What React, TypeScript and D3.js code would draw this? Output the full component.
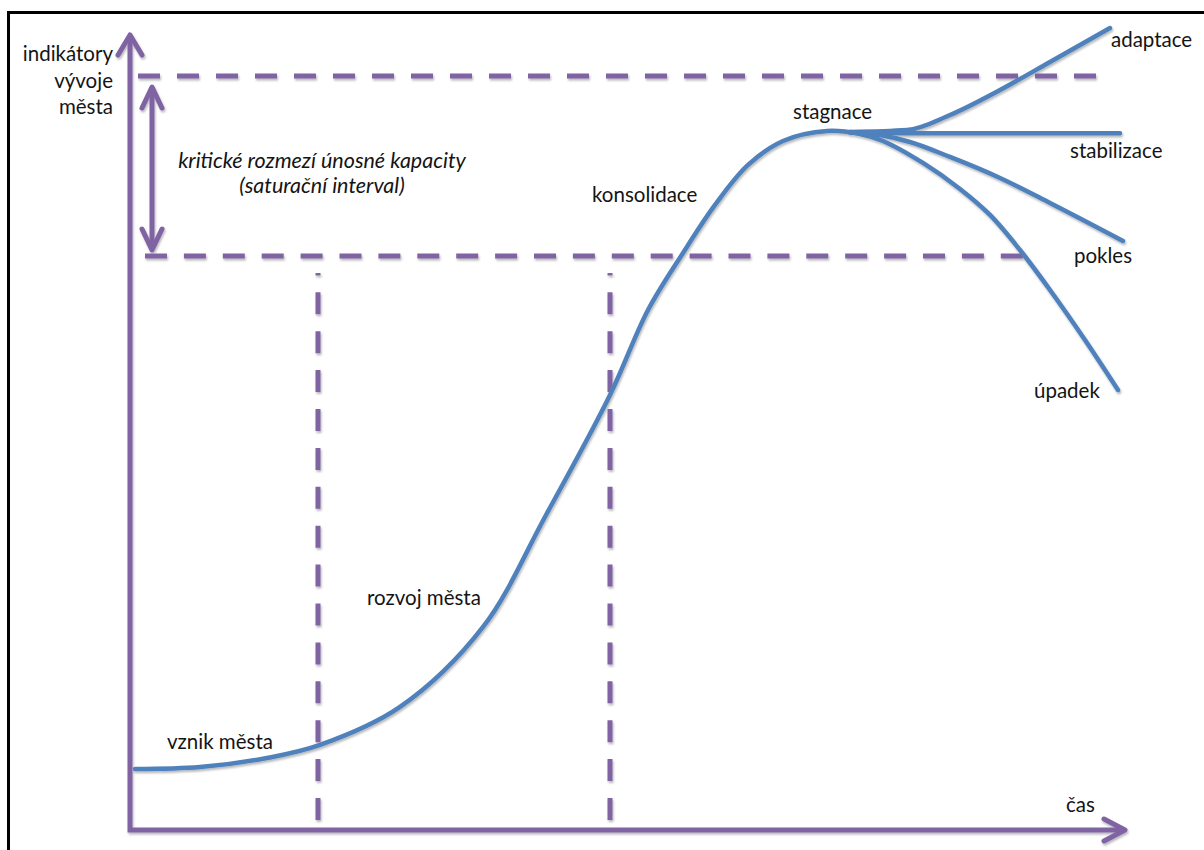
import React from "react";
import * as d3 from "d3";

// ---- data (time 0..100, indicator 0..100) ----
const mainCurve: [number, number][] = [
  [0.5, 7.63], [7.0, 7.88], [13.7, 9.0], [19.0, 10.63], [27.0, 15.38],
  [35.3, 25.38], [41.6, 39.38], [48.0, 54.38], [51.8, 65.0], [55.3, 72.13],
  [58.5, 78.13], [61.8, 83.13], [65.3, 86.13], [69.7, 87.38], [73.0, 87.0],
  [75.3, 86.13], [79.3, 83.38], [83.0, 80.13], [86.0, 76.88], [89.0, 72.5],
  [92.0, 67.5], [95.5, 61.25], [98.8, 55.0],
];
const adaptace: [number, number][] = [
  [72.0, 87.25], [77.7, 87.5], [82.0, 89.38], [87.0, 92.5], [92.0, 96.0], [98.0, 100.25],
];
const stabilizace: [number, number][] = [
  [72.0, 87.2], [80.0, 87.1], [99.0, 87.1],
];
const pokles: [number, number][] = [
  [72.0, 87.25], [75.0, 86.88], [78.0, 86.0], [82.0, 84.13], [87.0, 81.5], [92.0, 78.38], [99.3, 73.63],
];
const saturationLevels = [94.25, 71.75];
const phaseBoundaries = [18.8, 48.0];
const axisLabels = ["indikátory", "vývoje", "města"];
const intervalLabels = ["kritické rozmezí únosné kapacity", "(saturační interval)"];
const phaseLabels = ["vznik města", "rozvoj města", "konsolidace", "stagnace"];
const branchLabels = ["adaptace", "stabilizace", "pokles", "úpadek"];
const timeLabel = "čas";

const W = 1204;
const H = 850;
const PURPLE = "#8064A2";
const BLUE = "#4F81BD";
const TEXT = "#141414";
const FONT = "Lato, 'Open Sans', sans-serif";

const x = d3.scaleLinear().domain([0, 100]).range([130, 1130]);
const y = d3.scaleLinear().domain([0, 100]).range([830, 30]);

const line = d3
  .line<[number, number]>()
  .x((d) => x(d[0]))
  .y((d) => y(d[1]))
  .curve(d3.curveMonotoneX);

const smoothLine = d3
  .line<[number, number]>()
  .x((d) => x(d[0]))
  .y((d) => y(d[1]))
  .curve(d3.curveCatmullRom.alpha(0.5));

// layout positions for labels (pixels)
const phasePos = [
  [167, 749],
  [367, 605],
  [592, 202],
  [793, 119],
];
const branchPos = [
  [1111, 47],
  [1070, 158],
  [1074, 263],
  [1034, 398],
];

export default function App() {
  const x0 = x(0);
  const y0 = y(0);
  const xTip = x(99.5);
  const yTip = y(99.375);
  const arrowX = 152;
  const topLevel = y(saturationLevels[0]);
  const botLevel = y(saturationLevels[1]);

  return (
    <div>
      <style>{"body{margin:0}"}</style>
      <svg width={W} height={H} style={{ display: "block" }} fontFamily={FONT}>
        <defs>
          <filter id="sh" x="-10%" y="-10%" width="120%" height="130%">
            <feDropShadow dx="1" dy="2" stdDeviation="1.2" floodColor="#000" floodOpacity="0.28" />
          </filter>
        </defs>
        <rect x={0} y={0} width={W} height={H} fill="#fff" />
        {/* frame */}
        <path d={`M8.5,${H + 5} L8.5,12.5 L${W + 5},12.5`} fill="none" stroke="#000" strokeWidth={3} />

        <g filter="url(#sh)">
          {/* saturation dashed lines */}
          <line x1={138} x2={1096} y1={topLevel} y2={topLevel} stroke={PURPLE} strokeWidth={5} strokeDasharray="22,17" />
          <line x1={145} x2={1024} y1={botLevel} y2={botLevel} stroke={PURPLE} strokeWidth={5} strokeDasharray="22,16.9" />
          {/* phase boundaries */}
          {phaseBoundaries.map((v, i) => (
            <line key={i} x1={x(v)} x2={x(v)} y1={820} y2={273} stroke={PURPLE} strokeWidth={5} strokeDasharray="22,16.9" />
          ))}
          {/* double arrow */}
          <line x1={arrowX} x2={arrowX} y1={topLevel + 11} y2={botLevel - 6} stroke={PURPLE} strokeWidth={5} />
          <path
            d={`M${arrowX - 10},${topLevel + 32} L${arrowX},${topLevel + 11} L${arrowX + 10},${topLevel + 32}`}
            fill="none" stroke={PURPLE} strokeWidth={5} strokeLinecap="round" strokeLinejoin="round"
          />
          <path
            d={`M${arrowX - 10},${botLevel - 27} L${arrowX},${botLevel - 6} L${arrowX + 10},${botLevel - 27}`}
            fill="none" stroke={PURPLE} strokeWidth={5} strokeLinecap="round" strokeLinejoin="round"
          />
          {/* axes */}
          <path d={`M${x0},${yTip + 1} L${x0},${y0} L${xTip - 1},${y0}`} fill="none" stroke={PURPLE} strokeWidth={5} />
          <path
            d={`M${x0 - 12},${yTip + 20} L${x0},${yTip} L${x0 + 12},${yTip + 20}`}
            fill="none" stroke={PURPLE} strokeWidth={5} strokeLinecap="round" strokeLinejoin="round"
          />
          <path
            d={`M${xTip - 21},${y0 - 11} L${xTip},${y0} L${xTip - 21},${y0 + 11}`}
            fill="none" stroke={PURPLE} strokeWidth={5} strokeLinecap="round" strokeLinejoin="round"
          />

          {/* curves */}
          {[adaptace, stabilizace, pokles].map((b, i) => (
            <path key={i} d={line(b) || ""} fill="none" stroke={BLUE} strokeWidth={4.5} strokeLinecap="round" />
          ))}
          <path d={smoothLine(mainCurve) || ""} fill="none" stroke={BLUE} strokeWidth={4.5} strokeLinecap="round" />
        </g>

        {/* labels */}
        <g fill={TEXT} fontSize={20.5}>
          {axisLabels.map((t, i) => (
            <text key={t} x={113} y={61 + i * 26.5} textAnchor="end">{t}</text>
          ))}
          {intervalLabels.map((t, i) => (
            <text key={t} x={322} y={168 + i * 25} textAnchor="middle" fontStyle="italic" fontSize={21.5}>{t}</text>
          ))}
          {phaseLabels.map((t, i) => (
            <text key={t} x={phasePos[i][0]} y={phasePos[i][1]}>{t}</text>
          ))}
          {branchLabels.map((t, i) => (
            <text key={t} x={branchPos[i][0]} y={branchPos[i][1]}>{t}</text>
          ))}
          <text x={1066} y={812}>{timeLabel}</text>
        </g>
      </svg>
    </div>
  );
}
